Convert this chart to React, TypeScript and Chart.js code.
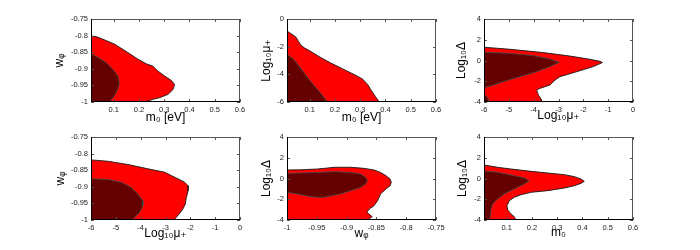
import React, { useEffect, useRef } from 'react';
import { Chart, registerables } from 'chart.js';

Chart.register(...registerables);

// ---------- tick values ----------
const M0_TICKS = [0.1, 0.2, 0.3, 0.4, 0.5, 0.6];
const W_TICKS = [-1, -0.95, -0.9, -0.85, -0.8, -0.75];
const LOGMU_Y_TICKS = [-6, -4, -2, 0];
const LOGMU_X_TICKS = [-6, -5, -4, -3, -2, -1, 0];
const LOGD_TICKS = [-4, -2, 0, 2, 4];

// ---------- axis titles ----------
const T_M0_EV = 'm\u2080 [eV]';
const T_M0 = 'm\u2080';
const T_W = 'w\u1D69';
const T_LOGMU = 'Log\u2081\u2080\u03BC\u208A';
const T_LOGD = 'Log\u2081\u2080\u0394';

// ---------- panel 1: m0 vs w ----------
const P1_OUT_X = [0.01, 0.01, 0.03, 0.051, 0.104, 0.156, 0.196, 0.229, 0.255, 0.275, 0.302, 0.328, 0.341, 0.335, 0.315, 0.282, 0.255, 0.236, 0.222, 0.01];
const P1_OUT_Y = [-1, -0.801, -0.803, -0.809, -0.826, -0.851, -0.871, -0.885, -0.892, -0.907, -0.922, -0.935, -0.947, -0.962, -0.977, -0.987, -0.992, -0.997, -1, -1];
const P1_IN_X = [0.01, 0.01, 0.038, 0.071, 0.097, 0.117, 0.122, 0.118, 0.11, 0.097, 0.084, 0.01];
const P1_IN_Y = [-1, -0.854, -0.866, -0.882, -0.902, -0.922, -0.942, -0.957, -0.972, -0.987, -1, -1];

// ---------- panel 2: m0 vs log10 mu+ ----------
const P2_OUT_X = [0.01, 0.01, 0.025, 0.045, 0.055, 0.065, 0.08, 0.1, 0.14, 0.18, 0.23, 0.28, 0.31, 0.33, 0.345, 0.36, 0.375, 0.01];
const P2_OUT_Y = [-6, -0.87, -1.05, -1.3, -1.6, -1.9, -2.1, -2.3, -2.75, -3.15, -3.6, -4.05, -4.35, -4.75, -5.2, -5.6, -6, -6];
const P2_IN_X = [0.01, 0.01, 0.038, 0.064, 0.09, 0.117, 0.143, 0.16, 0.17, 0.01];
const P2_IN_Y = [-6, -2.55, -2.94, -3.55, -4.2, -4.8, -5.35, -5.75, -6, -6];

// ---------- panel 3: log10 mu+ vs log10 Delta ----------
const P3_OUT_X = [-6, -6, -4.95, -3.61, -2.54, -1.73, -1.33, -1.23, -1.6, -2.27, -2.94, -3.14, -3.34, -3.74, -3.88, -3.81, -3.68, -3.7, -6];
const P3_OUT_Y = [-4, 1.28, 1.08, 0.76, 0.43, 0.11, -0.08, -0.2, -0.59, -1.08, -1.56, -1.88, -2.36, -2.68, -2.84, -3.33, -3.81, -4, -4];
const P3_IN_X = [-6, -6, -4.95, -4.01, -3.34, -2.97, -3.34, -3.88, -4.55, -5.22, -5.76, -6];
const P3_IN_Y = [-2.6, 0.8, 0.69, 0.47, 0.14, -0.18, -0.59, -1.08, -1.56, -2.04, -2.47, -2.6];
const P3_IN2_X = [-6, -6, -5.9, -5.8, -5.82, -6];
const P3_IN2_Y = [-4, -3.3, -3.45, -3.75, -4, -4];

// ---------- panel 4: log10 mu+ vs w ----------
const P4_OUT_X = [-6, -6, -5.32, -4.51, -3.7, -3.03, -2.77, -2.5, -2.23, -2.09, -2.09, -2.16, -2.2, -2.3, -2.45, -2.6, -2.65, -6];
const P4_OUT_Y = [-1, -0.819, -0.823, -0.833, -0.846, -0.856, -0.866, -0.876, -0.886, -0.897, -0.912, -0.932, -0.952, -0.967, -0.982, -0.995, -1, -1];
const P4_IN_X = [-6, -6, -5.32, -4.78, -4.38, -4.11, -3.91, -3.91, -4.04, -4.24, -4.38, -6];
const P4_IN_Y = [-1, -0.876, -0.878, -0.886, -0.902, -0.922, -0.942, -0.957, -0.977, -0.992, -1, -1];

// ---------- panel 5: w vs log10 Delta ----------
const P5_OUT_X = [-1, -1, -0.977, -0.949, -0.932, -0.921, -0.893, -0.871, -0.854, -0.843, -0.834, -0.827, -0.825, -0.827, -0.834, -0.843, -0.848, -0.854, -0.862, -0.866, -0.857, -0.865, -1];
const P5_OUT_Y = [-4, 0.82, 0.84, 0.915, 1.01, 1.08, 1.08, 0.98, 0.82, 0.59, 0.27, -0.05, -0.37, -0.69, -1.01, -1.49, -2.14, -2.62, -2.94, -3.26, -3.68, -4, -4];
const P5_IN_X = [-1, -1, -0.977, -0.949, -0.921, -0.893, -0.876, -0.868, -0.865, -0.868, -0.876, -0.893, -0.91, -0.938, -0.949, -0.96, -0.977, -1];
const P5_IN_Y = [-1.33, 0.5, 0.53, 0.59, 0.66, 0.59, 0.43, 0.11, -0.21, -0.53, -0.85, -1.17, -1.49, -1.81, -1.81, -1.75, -1.56, -1.33];

// ---------- panel 6: m0 vs log10 Delta ----------
const P6_OUT_X = [0.01, 0.01, 0.064, 0.117, 0.196, 0.262, 0.328, 0.368, 0.394, 0.407, 0.394, 0.368, 0.328, 0.262, 0.196, 0.157, 0.13, 0.11, 0.101, 0.104, 0.117, 0.13, 0.137, 0.01];
const P6_OUT_Y = [-4, 1.3, 1.08, 0.915, 0.69, 0.53, 0.37, 0.18, -0.05, -0.27, -0.47, -0.69, -0.92, -1.17, -1.33, -1.56, -1.81, -2.14, -2.62, -3.04, -3.42, -3.68, -4, -4];
const P6_IN_X = [0.01, 0.01, 0.064, 0.13, 0.17, 0.189, 0.17, 0.13, 0.09, 0.064, 0.044, 0.038, 0.035, 0.031, 0.01];
const P6_IN_Y = [-4, 0.72, 0.6, 0.27, 0.05, -0.21, -0.53, -1.01, -1.49, -1.98, -2.47, -2.95, -3.59, -4, -4];

// ---------- styles ----------
const RED = '#ff0000';
const DARK = '#650000';
const OUT_EDGE = '#1a1a1a';
const IN_EDGE = '#4a4a4a';
const FONT = "'Liberation Sans', Arial, Helvetica, 'DejaVu Sans', sans-serif";

type Poly = { xs: number[]; ys: number[]; fill: string; edge: string };
type PanelSpec = {
  left: number; top: number; w: number; h: number;
  xMin: number; xMax: number; yMin: number; yMax: number;
  xTicks: number[]; yTicks: number[];
  xTitle: string; yTitle: string;
  xOff: number; yOff: number;
  polys: Poly[];
};

const inner = (xs: number[], ys: number[]): Poly => ({ xs, ys, fill: DARK, edge: IN_EDGE });
const outer = (xs: number[], ys: number[]): Poly => ({ xs, ys, fill: RED, edge: OUT_EDGE });

const PW = 149;
const PH = 83;

const PANELS: PanelSpec[] = [
  { left: 91, top: 19, w: PW, h: PH, xMin: 0.01, xMax: 0.6, yMin: -1, yMax: -0.75, xTicks: M0_TICKS, yTicks: W_TICKS, xTitle: T_M0_EV, yTitle: T_W, xOff: 16, yOff: 32, polys: [inner(P1_IN_X, P1_IN_Y), outer(P1_OUT_X, P1_OUT_Y)] },
  { left: 287, top: 19, w: PW, h: PH, xMin: 0.01, xMax: 0.6, yMin: -6, yMax: 0, xTicks: M0_TICKS, yTicks: LOGMU_Y_TICKS, xTitle: T_M0_EV, yTitle: T_LOGMU, xOff: 16, yOff: 21, polys: [inner(P2_IN_X, P2_IN_Y), outer(P2_OUT_X, P2_OUT_Y)] },
  { left: 484, top: 19, w: PW, h: PH, xMin: -6, xMax: 0, yMin: -4, yMax: 4, xTicks: LOGMU_X_TICKS, yTicks: LOGD_TICKS, xTitle: T_LOGMU, yTitle: T_LOGD, xOff: 14, yOff: 23, polys: [inner(P3_IN_X, P3_IN_Y), inner(P3_IN2_X, P3_IN2_Y), outer(P3_OUT_X, P3_OUT_Y)] },
  { left: 91, top: 137, w: PW, h: PH, xMin: -6, xMax: 0, yMin: -1, yMax: -0.75, xTicks: LOGMU_X_TICKS, yTicks: W_TICKS, xTitle: T_LOGMU, yTitle: T_W, xOff: 14, yOff: 31, polys: [inner(P4_IN_X, P4_IN_Y), outer(P4_OUT_X, P4_OUT_Y)] },
  { left: 287, top: 137, w: PW, h: PH, xMin: -1, xMax: -0.75, yMin: -4, yMax: 4, xTicks: W_TICKS, yTicks: LOGD_TICKS, xTitle: T_W, yTitle: T_LOGD, xOff: 14, yOff: 21, polys: [inner(P5_IN_X, P5_IN_Y), outer(P5_OUT_X, P5_OUT_Y)] },
  { left: 484, top: 137, w: PW, h: PH, xMin: 0.01, xMax: 0.6, yMin: -4, yMax: 4, xTicks: M0_TICKS, yTicks: LOGD_TICKS, xTitle: T_M0, yTitle: T_LOGD, xOff: 13, yOff: 22, polys: [inner(P6_IN_X, P6_IN_Y), outer(P6_OUT_X, P6_OUT_Y)] },
];

const TITLE_SIZE = 12;
const TITLE_LH = 1.2;
const TICK_SIZE = 7.5;
const PAD_TOP = 8;
const PAD_RIGHT = 16;

const boxPlugin = {
  id: 'matlabBox',
  afterDraw(chart: any) {
    const { ctx, chartArea: a, scales } = chart;
    const L = 3;
    ctx.save();
    ctx.lineWidth = 1;
    ctx.strokeStyle = '#555';
    ctx.beginPath();
    ctx.moveTo(a.left, a.top + 0.5);
    ctx.lineTo(a.right, a.top + 0.5);
    ctx.moveTo(a.right - 0.5, a.top);
    ctx.lineTo(a.right - 0.5, a.bottom);
    ctx.stroke();
    ctx.beginPath();
    for (const t of scales.x.ticks) {
      const p = Math.round(scales.x.getPixelForValue(t.value)) + 0.5;
      ctx.moveTo(p, a.bottom); ctx.lineTo(p, a.bottom - L);
      ctx.moveTo(p, a.top); ctx.lineTo(p, a.top + L);
    }
    for (const t of scales.y.ticks) {
      const p = Math.round(scales.y.getPixelForValue(t.value)) + 0.5;
      ctx.moveTo(a.left, p); ctx.lineTo(a.left + L, p);
      ctx.moveTo(a.right, p); ctx.lineTo(a.right - L, p);
    }
    ctx.stroke();
    ctx.strokeStyle = '#000';
    ctx.beginPath();
    ctx.moveTo(a.left + 0.5, a.top);
    ctx.lineTo(a.left + 0.5, a.bottom);
    ctx.moveTo(a.left, a.bottom - 0.5);
    ctx.lineTo(a.right, a.bottom - 0.5);
    ctx.stroke();
    ctx.restore();
  },
};

const fmt = (v: number) => String(Math.round(v * 1000) / 1000);

function Panel({ spec }: { spec: PanelSpec }) {
  const ref = useRef<HTMLCanvasElement | null>(null);
  const W = Math.round(spec.yOff + (TITLE_SIZE * TITLE_LH) / 2);
  const H = Math.round(spec.xOff + (TITLE_SIZE * TITLE_LH) / 2);
  const cw = W + spec.w + PAD_RIGHT;
  const ch = PAD_TOP + spec.h + H;

  useEffect(() => {
    if (!ref.current) return;
    const datasets = spec.polys.map((p) => ({
      data: p.xs.map((x, i) => ({ x, y: p.ys[i] })),
      backgroundColor: p.fill,
      borderColor: p.edge,
      borderWidth: 0.9,
      fill: 'shape',
      pointRadius: 0,
      pointHoverRadius: 0,
      tension: 0,
    }));
    const chart = new Chart(ref.current, {
      type: 'line',
      data: { datasets } as any,
      options: {
        animation: false,
        responsive: false,
        devicePixelRatio: 1,
        events: [],
        layout: { padding: { top: PAD_TOP, right: PAD_RIGHT, left: 0, bottom: 0 } },
        plugins: { legend: { display: false }, tooltip: { enabled: false } },
        scales: {
          x: {
            type: 'linear',
            min: spec.xMin,
            max: spec.xMax,
            grid: { display: false, drawTicks: false, tickLength: 0 },
            border: { display: false },
            afterBuildTicks: (s: any) => { s.ticks = spec.xTicks.map((v) => ({ value: v })); },
            afterFit: (s: any) => { s.height = H; },
            ticks: { autoSkip: false, maxRotation: 0, padding: 3, color: '#222', font: { size: TICK_SIZE, family: FONT }, callback: (v: any) => fmt(Number(v)) },
            title: { display: true, text: spec.xTitle, color: '#000', padding: 0, font: { size: TITLE_SIZE, family: FONT, lineHeight: TITLE_LH } },
          },
          y: {
            type: 'linear',
            min: spec.yMin,
            max: spec.yMax,
            grid: { display: false, drawTicks: false, tickLength: 0 },
            border: { display: false },
            afterBuildTicks: (s: any) => { s.ticks = spec.yTicks.map((v) => ({ value: v })); },
            afterFit: (s: any) => { s.width = W; },
            ticks: { autoSkip: false, padding: 3, color: '#222', font: { size: TICK_SIZE, family: FONT }, callback: (v: any) => fmt(Number(v)) },
            title: { display: true, text: spec.yTitle, color: '#000', padding: 0, font: { size: TITLE_SIZE, family: FONT, lineHeight: TITLE_LH } },
          },
        },
      } as any,
      plugins: [boxPlugin],
    });
    return () => chart.destroy();
  }, []);

  return (
    <canvas
      ref={ref}
      width={cw}
      height={ch}
      style={{ position: 'absolute', left: spec.left - W, top: spec.top - PAD_TOP, width: cw, height: ch }}
    />
  );
}

export default function App() {
  return (
    <div style={{ position: 'fixed', left: 0, top: 0, width: 700, height: 250, background: '#fff', overflow: 'hidden' }}>
      {PANELS.map((p, i) => (
        <Panel key={i} spec={p} />
      ))}
    </div>
  );
}
